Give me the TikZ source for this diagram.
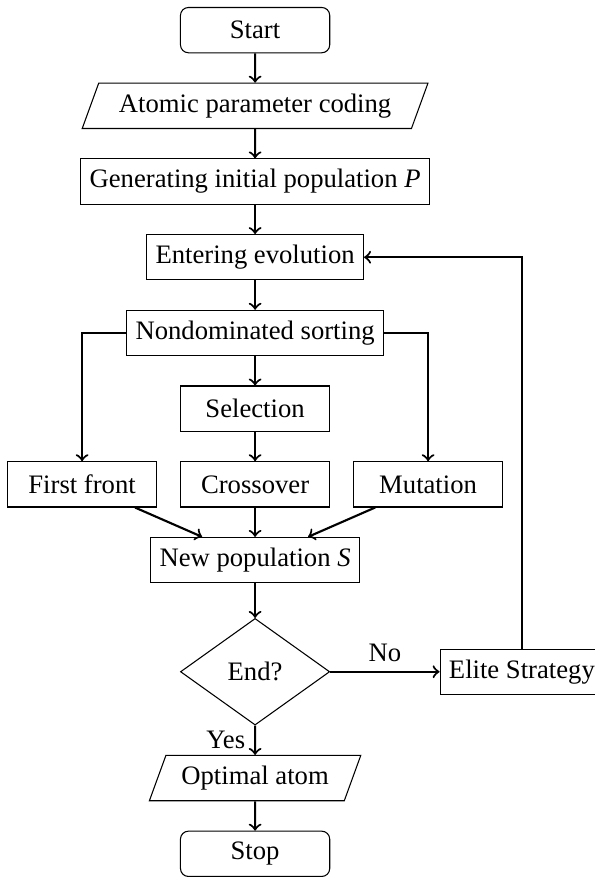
\documentclass[tikz,border=0pt]{standalone}
\usepackage{fontspec}
\setmainfont{Liberation Serif}
\usetikzlibrary{positioning,shapes.geometric}

\begin{document}
\begin{tikzpicture}[node distance=11pt,
    box/.style={draw,rectangle,minimum height=17pt,align=center},
    fixbox/.style={box,minimum width=56pt},
    term/.style={fixbox,rounded corners=3pt},
    io/.style={draw,trapezium,trapezium left angle=70,trapezium right angle=110,minimum height=17pt},
    cond/.style={draw,diamond,aspect=1.4,minimum width=56pt,minimum height=40pt,inner sep=0pt},
    flow/.style={->,thick}]
            \node (start) [term] {Start};
            \node (coding) [io,below=of start] {Atomic parameter coding};
            \node (init) [box,below=of coding] {Generating initial population \textit{P}};
            \node (enter) [box,below=of init] {Entering evolution};
            \node (sort) [box,below=of enter] {Nondominated sorting};
            \node (select) [fixbox,below=of sort] {Selection};
            \node (cross) [fixbox,below=of select] {Crossover};
            \node (front) [fixbox,left=8.5pt of cross] {First front};
            \node (mutate) [fixbox,right=8.5pt of cross] {Mutation};
            \node (newpop) [box,below=of cross] {New population \textit{S}};
            \node (end) [cond,below=13pt of newpop] {End?};
            \node (elite) [box,right=41pt of end] {Elite Strategy};
            \node (optimal) [io,below=of end] {Optimal atom};
            \node (stop) [term,below=of optimal] {Stop};

            \draw [flow] (start) -- (coding);
            \draw [flow] (coding) -- (init);
            \draw [flow] (init) -- (enter);
            \draw [flow] (enter) -- (sort);
            \draw [flow] (sort) -- (select);
            \draw [flow] (select) -- (cross);
            \draw [flow] (sort.west) -| (front.north);
            \draw [flow] (sort.east) -| (mutate.north);
            \draw [flow] (front) -- (newpop);
            \draw [flow] (cross) -- (newpop);
            \draw [flow] (mutate) -- (newpop);
            \draw [flow] (newpop) -- (end);
            \draw [flow] (end) -- node [above] {No} (elite);
            \draw [flow] (elite.north) |- (enter.east);
            \draw [flow] (end) -- node [left] {Yes} (optimal);
            \draw [flow] (optimal) -- (stop);

            \path (front.west |- start.north) ++(-2.6pt,2.6pt) coordinate (topleft);
            \path (stop.south) ++(127.2pt,0) coordinate (botright);
            \pgfresetboundingbox
            \useasboundingbox (topleft) rectangle (botright);
        \end{tikzpicture}
\end{document}
